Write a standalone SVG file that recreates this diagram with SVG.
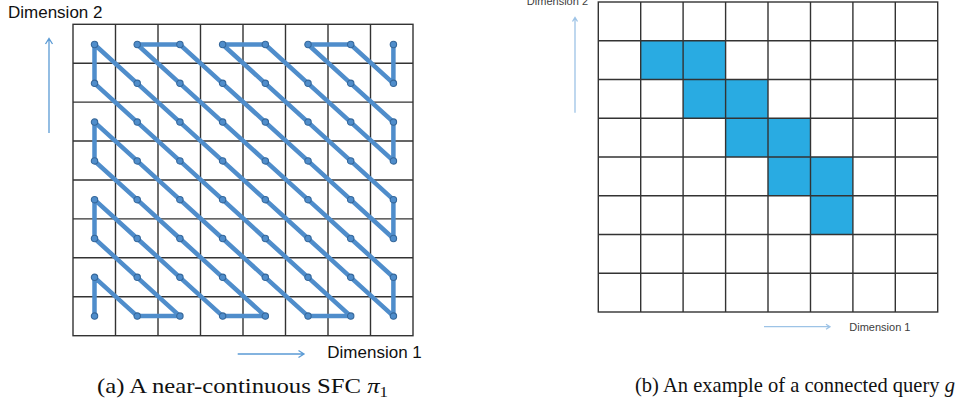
<svg xmlns="http://www.w3.org/2000/svg" width="961" height="404" viewBox="0 0 961 404">
<style>
.grid{fill:none;stroke:#333;stroke-width:1.4}
.curve{fill:none;stroke:#4F8DCB;stroke-width:4.5;stroke-linejoin:miter;stroke-miterlimit:2;marker-start:url(#dot);marker-mid:url(#dot);marker-end:url(#dot)}
.lab{font-family:"Liberation Sans",Arial,sans-serif;font-size:17px;fill:#111}
.labs{font-family:"Liberation Sans",Arial,sans-serif;font-size:11px;fill:#404040}
.cap{font-family:"Liberation Serif","Times New Roman",serif;font-size:22px;fill:#111}
.q{fill:#29ABE2;stroke:none}
.arr{fill:none;stroke:#5B9BD5;stroke-width:1.3}
.arrs{fill:none;stroke:#9DC3E6;stroke-width:1.3}
</style>
<defs>
<marker id="dot" markerUnits="userSpaceOnUse" markerWidth="10" markerHeight="10" refX="5" refY="5" viewBox="0 0 10 10" overflow="visible">
<circle cx="5" cy="5" r="3.2" fill="#4F8DCB" stroke="#35679A" stroke-width="1.1"/>
</marker>
</defs>
<rect width="961" height="404" fill="#fff"/>

<g id="panel-a-grid">
<rect class="grid" x="73" y="24.3" width="340" height="311.4"/>
<path class="grid" d="M115.5 24.3V335.7M158 24.3V335.7M200.5 24.3V335.7M243 24.3V335.7M285.5 24.3V335.7M328 24.3V335.7M370.5 24.3V335.7M73 63.2H413M73 102.1H413M73 141H413M73 180H413M73 218.9H413M73 257.8H413M73 296.7H413"/>
</g>

<g id="sfc-curve">
<polyline class="curve" points="393.4,44.5 393.4,83.3 350.7,44.5 308,44.5 350.7,83.3 393.4,122.1 393.4,160.9 350.7,122.1 308,83.3 265.3,44.5 222.6,44.5 265.3,83.3 308,122.1 350.7,160.9 393.4,199.7 393.4,238.5 350.7,199.7 308,160.9 265.3,122.1 222.6,83.3 179.9,44.5 137.2,44.5 179.9,83.3 222.6,122.1 265.3,160.9 308,199.7 350.7,238.5 393.4,277.3 393.4,316.1 350.7,277.3 308,238.5 265.3,199.7 222.6,160.9 179.9,122.1 137.2,83.3 94.5,44.5 94.5,83.3 137.2,122.1 179.9,160.9 222.6,199.7 265.3,238.5 308,277.3 350.7,316.1 308,316.1 265.3,277.3 222.6,238.5 179.9,199.7 137.2,160.9 94.5,122.1 94.5,160.9 137.2,199.7 179.9,238.5 222.6,277.3 265.3,316.1 222.6,316.1 179.9,277.3 137.2,238.5 94.5,199.7 94.5,238.5 137.2,277.3 179.9,316.1 137.2,316.1 94.5,277.3 94.5,316.1"/>
</g>

<g id="panel-a-axes">
<text class="lab" x="8" y="18.3">Dimension 2</text>
<path class="arr" d="M49 133V38.5M45.5 44L49 38.5L52.5 44"/>
<path class="arr" d="M237.7 354H304M298.5 350.5L304 354L298.5 357.5"/>
<text class="lab" x="327.3" y="358.3">Dimension 1</text>
</g>

<g id="panel-b-query">
<rect class="q" x="640.7" y="40.75" width="84.9" height="38.75"/>
<rect class="q" x="683.1" y="79.5" width="84.9" height="38.75"/>
<rect class="q" x="725.6" y="118.25" width="84.9" height="38.75"/>
<rect class="q" x="768" y="157" width="84.9" height="38.75"/>
<rect class="q" x="810.5" y="195.75" width="42.4" height="38.75"/>
</g>

<g id="panel-b-grid">
<rect class="grid" x="598.3" y="2" width="339.4" height="310"/>
<path class="grid" d="M640.7 2V312M683.1 2V312M725.6 2V312M768 2V312M810.5 2V312M852.9 2V312M895.3 2V312M598.3 40.75H937.7M598.3 79.5H937.7M598.3 118.25H937.7M598.3 157H937.7M598.3 195.75H937.7M598.3 234.5H937.7M598.3 273.25H937.7"/>
</g>

<g id="panel-b-axes">
<text class="labs" x="588" y="4.5" text-anchor="end">Dimension 2</text>
<path class="arrs" d="M575 112.7V17.5M572.5 21.5L575 17.5L577.5 21.5"/>
<path class="arrs" d="M764 326.7H830M826 324.2L830 326.7L826 329.2"/>
<text class="labs" x="849.3" y="330.7">Dimension 1</text>
</g>

<g id="captions">
<text class="cap" x="97" y="392.5" textLength="291" lengthAdjust="spacingAndGlyphs">(a) A near-continuous SFC <tspan font-style="italic">π</tspan><tspan font-size="15" dy="4">1</tspan></text>
<text class="cap" x="635" y="392" textLength="320" lengthAdjust="spacingAndGlyphs">(b) An example of a connected query <tspan font-style="italic">g</tspan></text>
</g>
</svg>
